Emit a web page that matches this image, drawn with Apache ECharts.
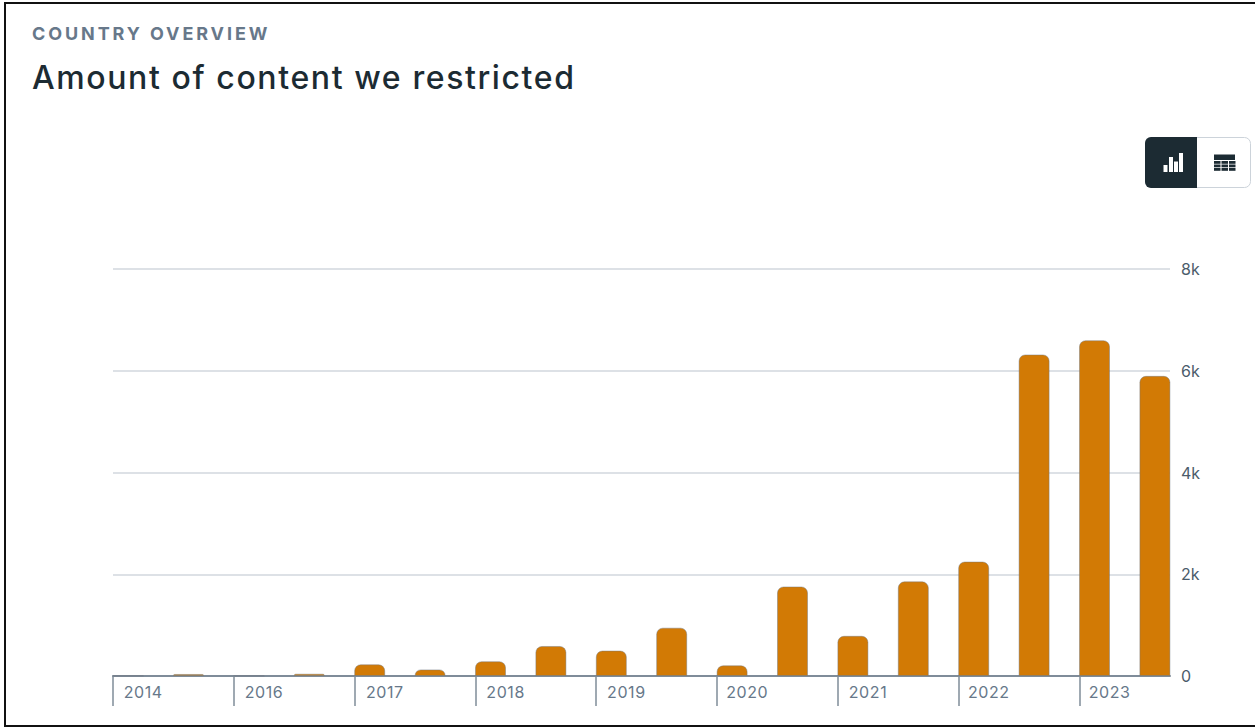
<!DOCTYPE html>
<html><head><meta charset="utf-8">
<style>html,body{margin:0;padding:0;background:#fff}#c{width:1255px;height:728px}</style>
<script src="https://cdn.jsdelivr.net/npm/echarts@6/dist/echarts.min.js"></script>
</head><body><div id="c"></div>
<script>
const yearLabels = ['2014','2016','2017','2018','2019','2020','2021','2022','2023'];
const barValues = [5,40,5,45,230,130,290,590,500,950,210,1760,790,1860,2250,6320,6600,5900];
const yTicks = [0,2000,4000,6000,8000];

const slotsPerBar = 2, barsPerYear = 2, slotsPerYear = slotsPerBar * barsPerYear;
const barData = barValues.map((v,i)=>[i*slotsPerBar+0.5, v]);
const tickSlots = yearLabels.map((_,i)=>i*slotsPerYear);
const labelSlots = yearLabels.map((_,i)=>i*slotsPerYear+1);
const FONT = 'Inter, "Noto Sans", sans-serif';
const chart = echarts.init(document.getElementById('c'), null, {renderer:'svg'});
const dark = '#1c2b33', line = '#ccd3da';
chart.setOption({
  animation:false,
  backgroundColor:'#fff',
  title:[
    {text:'COUNTRY OVERVIEW',left:27,top:19,textStyle:{fontFamily:FONT,fontSize:18,fontWeight:700,color:'#67788a'}},
    {text:'Amount of content we restricted',left:27,top:56,textStyle:{fontFamily:FONT,fontSize:32,fontWeight:500,color:dark}}
  ],
  grid:{left:113,right:85,top:269,bottom:52},
  xAxis:{type:'value',min:0,max:barValues.length*slotsPerBar-1,
    splitLine:{show:false},
    axisLine:{show:true,onZero:false,lineStyle:{color:'#7f8c99',width:2}},
    axisTick:{show:true,length:30,customValues:tickSlots,lineStyle:{color:'#7f8c99',width:1.5}},
    axisLabel:{customValues:labelSlots,margin:8,fontFamily:FONT,fontSize:16,color:'#67788a',
      formatter:v=>yearLabels[(v-1)/slotsPerYear]}
  },
  yAxis:{type:'value',position:'right',min:yTicks[0],max:yTicks[yTicks.length-1],interval:yTicks[1]-yTicks[0],
    axisLine:{show:false},axisTick:{show:false},
    splitLine:{lineStyle:{color:'#dde1e6',width:2}},
    axisLabel:{margin:11,fontFamily:FONT,fontSize:16,color:'#4b5c6b',formatter:v=>v===0?'0':(v/1000)+'k'}
  },
  series:[{type:'bar',data:barData,barWidth:31,
    itemStyle:{color:'#d27a05',borderColor:'rgba(110,120,130,0.45)',borderWidth:1,borderRadius:[6,6,0,0]}}],
  graphic:[
    {type:'rect',shape:{x:5,y:3,width:1260,height:723},style:{fill:'none',stroke:'#111',lineWidth:2},silent:true},
    {type:'rect',shape:{x:1145.5,y:137.5,width:105,height:50,r:6},style:{fill:'#fff',stroke:line,lineWidth:1},silent:true},
    {type:'rect',shape:{x:1145,y:137,width:52,height:51,r:[6,0,0,6]},style:{fill:dark},silent:true},
    {type:'rect',shape:{x:1163.5,y:165,width:4,height:7},style:{fill:'#fff'},silent:true},
    {type:'rect',shape:{x:1169,y:157,width:4,height:15},style:{fill:'#fff'},silent:true},
    {type:'rect',shape:{x:1174,y:161.5,width:4,height:10.5},style:{fill:'#fff'},silent:true},
    {type:'rect',shape:{x:1179,y:153,width:4,height:19},style:{fill:'#fff'},silent:true},
    {type:'rect',shape:{x:1214,y:154.5,width:21,height:5.5},style:{fill:dark},silent:true},
    ...[161,164.5,168].flatMap(y=>[1214,1221.5,1229].map(x=>({type:'rect',shape:{x,y,width:6.5,height:2.8},style:{fill:dark},silent:true})))
  ]
});
const spacing = {'COUNTRY OVERVIEW':'2.9px','Amount of content we restricted':'1.6px'};
yearLabels.forEach(y=>spacing[y]='0.6px');
document.querySelectorAll('#c svg text').forEach(t=>{
  const s = spacing[t.textContent];
  if(s) t.style.letterSpacing = s;
});
</script></body></html>
